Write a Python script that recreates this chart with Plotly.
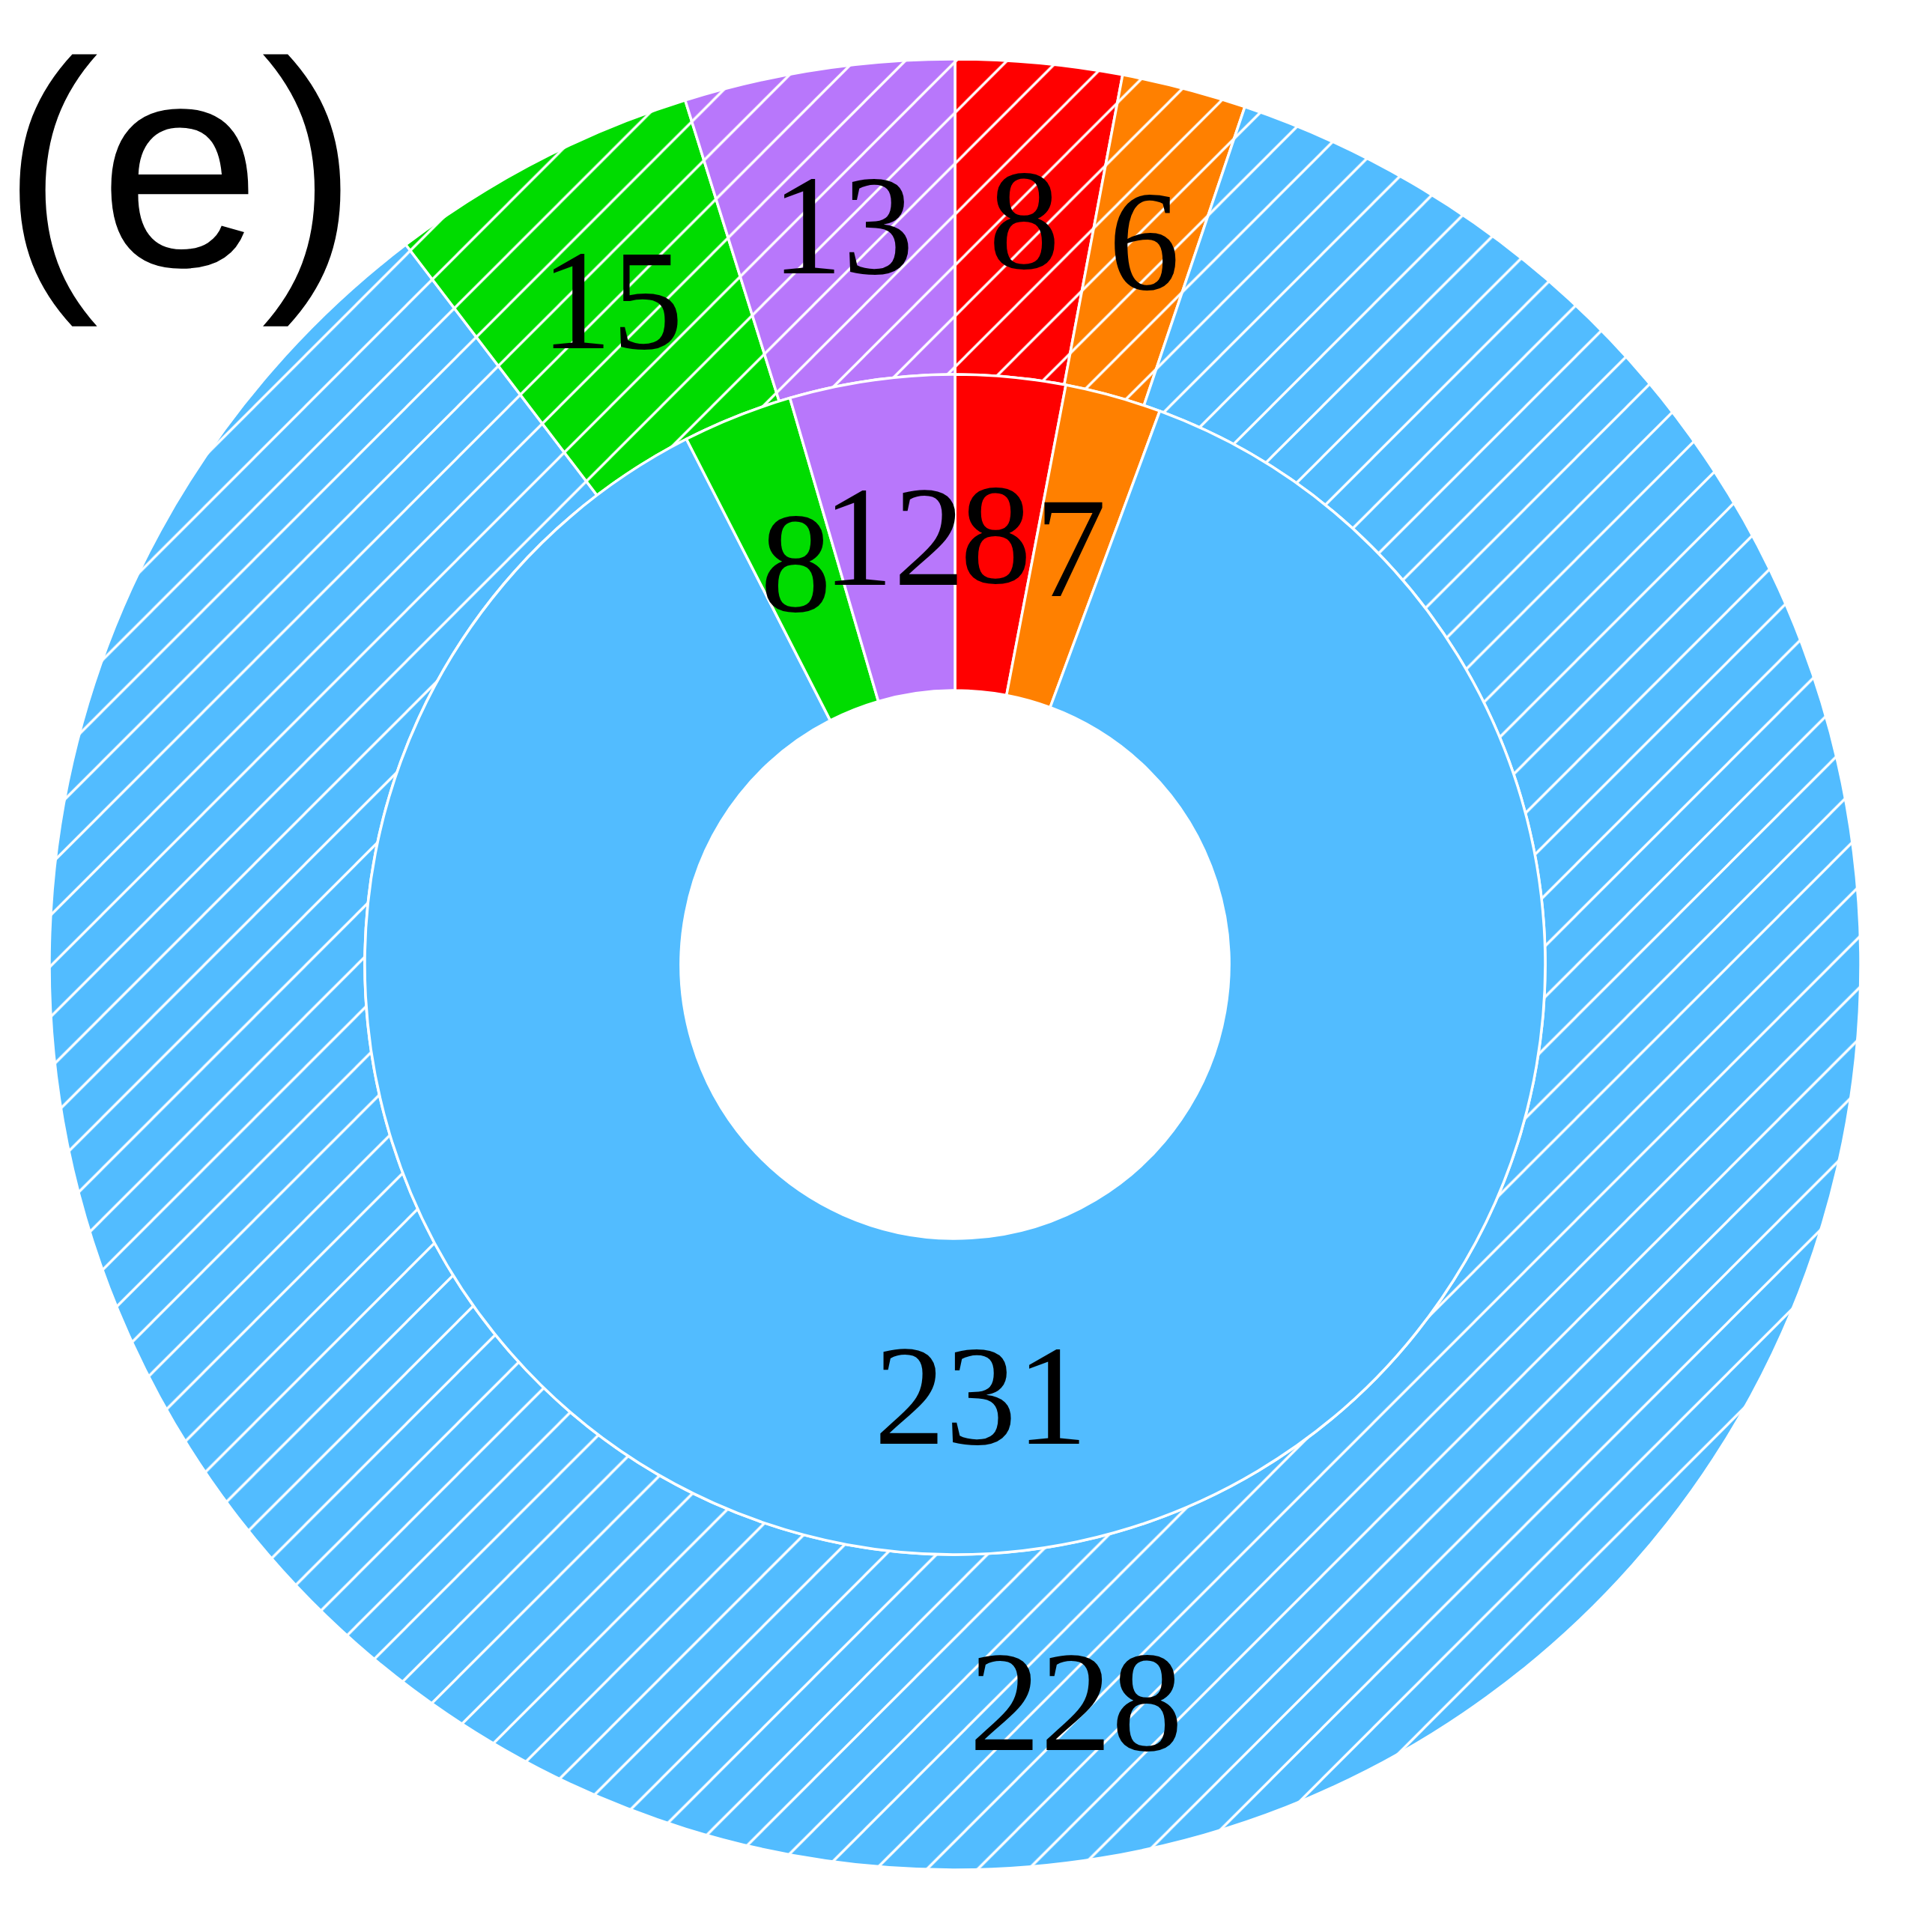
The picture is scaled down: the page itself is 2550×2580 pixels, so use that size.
import math
import plotly.graph_objects as go

# ---- data ----
categories = ["A", "B", "C", "D", "E"]
colors = ["#FF0000", "#FF8000", "#52BCFF", "#00DC00", "#B877FB"]
outer_values = [8, 6, 228, 15, 13]
inner_values = [8, 7, 231, 8, 12]
panel_label = "(e)"

# ---- layout constants (pixels) ----
W, H = 2550, 2580
CX, CY = 1275, 1288          # centre, measured from top
R_OUT, R_MID, R_IN = 1209, 788, 366

SERIF = "Liberation Serif"
SANS = "Liberation Sans"


def domain(r):
    cy_b = H - CY
    return dict(x=[(CX - r) / W, (CX + r) / W], y=[(cy_b - r) / H, (cy_b + r) / H])


fig = go.Figure()
fig.add_trace(go.Pie(
    labels=categories, values=outer_values, sort=False, direction="clockwise",
    rotation=0, hole=R_MID / R_OUT, domain=domain(R_OUT), textinfo="none",
    hoverinfo="skip", showlegend=False,
    marker=dict(colors=colors, line=dict(color="white", width=3.5),
                pattern=dict(shape="/", fgcolor="white", bgcolor=colors,
                             fillmode="replace", size=48, solidity=0.07)),
))
fig.add_trace(go.Pie(
    labels=categories, values=inner_values, sort=False, direction="clockwise",
    rotation=0, hole=R_IN / R_MID, domain=domain(R_MID), textinfo="none",
    hoverinfo="skip", showlegend=False,
    marker=dict(colors=colors, line=dict(color="white", width=3.5)),
))

annotations = []


def ring_labels(values, r0, r1):
    total = sum(values)
    cum = 0
    rr = (r0 + r1) / 2
    for v in values:
        mid = (cum + v / 2) / total * 2 * math.pi
        cum += v
        px = CX + rr * math.sin(mid)
        py = CY - rr * math.cos(mid)
        annotations.append(dict(
            x=px / W, y=1 - py / H, xref="paper", yref="paper", text=str(v),
            showarrow=False, xanchor="center", yanchor="middle",
            font=dict(family=SERIF, size=190, color="black"),
        ))


ring_labels(outer_values, R_MID, R_OUT)
ring_labels(inner_values, R_IN, R_MID)

annotations.append(dict(
    x=0.0, y=1.0, xref="paper", yref="paper", text=panel_label, showarrow=False,
    xanchor="left", yanchor="top",
    font=dict(family=SANS, size=390, color="black"),
))

fig.update_layout(
    width=W, height=H, margin=dict(l=0, r=0, t=0, b=0),
    paper_bgcolor="white", plot_bgcolor="white",
    annotations=annotations,
)

fig.write_html("out.html")
